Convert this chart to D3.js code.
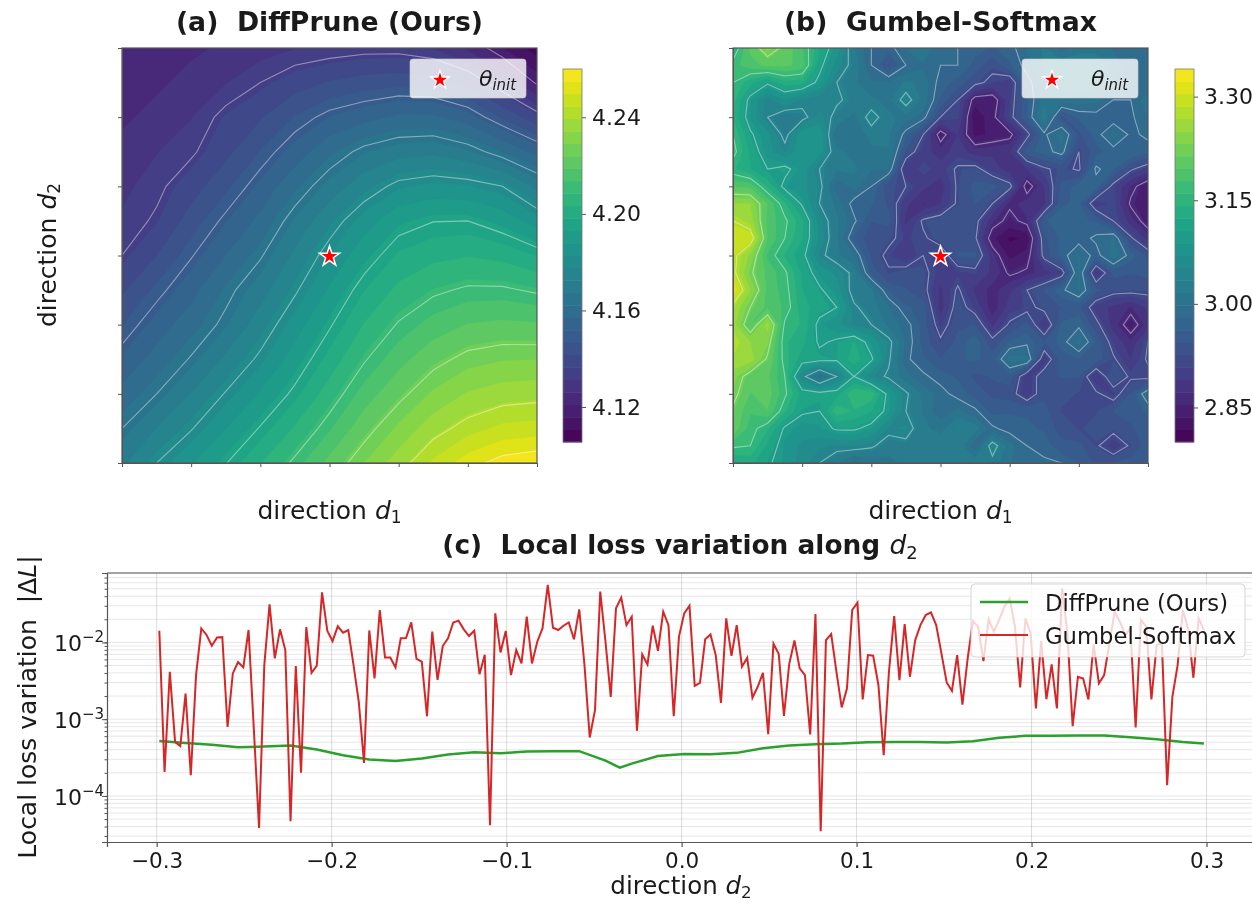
<!DOCTYPE html>
<html>
<head>
<meta charset="utf-8">
<script src="https://cdn.jsdelivr.net/npm/d3@7/dist/d3.min.js"></script>
<style>
body { margin:0; background:#fff; }
svg { display:block; filter:blur(0.7px); font-family:"DejaVu Sans",sans-serif; fill:#1a1a1a; }
svg text { white-space:pre; }
</style>
</head>
<body>
<div id="chart"></div>
<script>
// panel (a) loss surface
const surfaceA = [
[4.122,4.123,4.125,4.127,4.129,4.131,4.132,4.133,4.133,4.131,4.125,4.116,4.108],
[4.123,4.125,4.128,4.131,4.135,4.139,4.142,4.144,4.145,4.144,4.140,4.131,4.119],
[4.125,4.128,4.131,4.137,4.141,4.147,4.152,4.155,4.158,4.158,4.154,4.146,4.138],
[4.128,4.131,4.134,4.140,4.147,4.154,4.161,4.167,4.170,4.171,4.168,4.162,4.155],
[4.130,4.1335,4.139,4.1455,4.153,4.161,4.169,4.176,4.182,4.184,4.183,4.180,4.171],
[4.132,4.136,4.144,4.1515,4.1585,4.168,4.1766,4.185,4.192,4.1948,4.195,4.1914,4.185],
[4.135,4.1415,4.1495,4.157,4.1643,4.1736,4.183,4.1914,4.199,4.2018,4.203,4.2016,4.198],
[4.1407,4.148,4.155,4.163,4.170,4.179,4.1886,4.198,4.2047,4.2087,4.211,4.211,4.209],
[4.1466,4.1538,4.1603,4.1667,4.1756,4.185,4.1942,4.2036,4.2106,4.2157,4.219,4.220,4.2195],
[4.1526,4.1594,4.1656,4.1735,4.1815,4.1906,4.200,4.2093,4.2168,4.2227,4.227,4.2287,4.229],
[4.1588,4.165,4.1727,4.1805,4.1884,4.1966,4.2062,4.2158,4.223,4.230,4.2347,4.237,4.2377],
[4.165,4.1726,4.1795,4.1878,4.1955,4.204,4.213,4.2223,4.2302,4.2375,4.2424,4.2458,4.2467],
[4.1714,4.180,4.1873,4.1947,4.2031,4.2114,4.2205,4.229,4.2372,4.2455,4.2525,4.2575,4.2595]
];
// panel (b) loss surface
const surfaceB = [
[3.14,3.20,3.24,3.21,3.18,3.125,3.08,3.02,2.98,2.97,3.00,3.02,2.98,2.98,2.97,2.96,2.97,3.00,3.02,2.99,3.01,3.01,2.995,2.98,2.98],
[3.17,3.19,3.20,3.20,3.19,3.11,3.06,3.03,2.98,2.94,2.98,2.995,2.98,2.98,2.955,2.93,2.96,2.99,3.02,3.03,3.03,3.03,3.01,2.99,2.98],
[3.16,3.13,3.105,3.135,3.13,3.09,3.04,3.02,3.00,3.00,3.02,3.01,2.97,2.955,2.93,2.91,2.895,2.97,3.005,3.02,3.03,3.03,2.995,2.98,2.98],
[3.15,3.09,3.045,3.07,3.05,3.04,3.045,3.03,3.02,3.01,3.055,3.01,2.96,2.92,2.845,2.84,2.905,2.96,3.01,3.01,3.01,3.005,2.98,2.98,3.01],
[3.14,3.085,3.04,3.02,3.03,3.06,3.03,3.01,3.055,3.02,3.01,2.99,2.92,2.91,2.82,2.85,2.91,2.96,3.03,2.94,2.965,2.97,2.965,2.975,3.00],
[3.16,3.105,3.075,3.03,3.085,3.085,3.00,3.00,3.025,3.02,2.97,2.92,2.845,2.89,2.83,2.84,2.85,2.91,2.975,3.01,2.94,2.97,3.005,2.975,2.985],
[3.17,3.12,3.08,3.05,3.085,3.08,3.02,3.01,3.01,3.015,2.94,2.90,2.88,2.90,2.88,2.885,2.89,2.955,2.97,2.99,2.92,2.955,2.97,2.98,2.97],
[3.145,3.125,3.10,3.11,3.08,3.04,3.02,3.02,3.00,3.00,2.89,2.915,2.90,2.925,2.93,2.90,2.88,2.89,2.915,2.93,2.915,2.985,2.965,2.925,2.90],
[3.195,3.19,3.14,3.09,3.075,3.05,2.985,3.005,2.98,2.93,2.92,2.895,2.88,2.925,2.95,2.95,2.93,2.845,2.89,2.95,2.97,2.97,2.91,2.87,2.84],
[3.25,3.25,3.195,3.145,3.095,3.04,3.01,2.97,2.965,2.94,2.895,2.87,2.89,2.925,2.945,2.92,2.865,2.88,2.885,2.96,2.965,2.895,2.915,2.855,2.85],
[3.28,3.26,3.19,3.165,3.13,3.06,3.02,2.985,2.945,2.95,2.885,2.925,2.935,2.94,2.93,2.875,2.85,2.87,2.96,2.97,2.965,2.96,2.92,2.88,2.845],
[3.305,3.30,3.195,3.16,3.125,3.065,3.02,2.96,2.93,2.93,2.905,2.915,2.935,2.94,2.925,2.84,2.815,2.82,2.94,2.965,2.97,2.985,3.00,2.925,2.88],
[3.29,3.245,3.175,3.14,3.11,3.05,3.02,3.00,2.94,2.91,2.89,2.92,2.90,2.945,2.95,2.88,2.83,2.845,2.93,2.97,3.00,2.97,3.01,2.97,2.94],
[3.29,3.225,3.19,3.165,3.12,3.085,3.065,3.03,2.955,2.925,2.935,2.93,2.90,2.905,2.91,2.885,2.855,2.865,2.88,2.905,3.005,2.885,2.95,2.945,2.95],
[3.32,3.25,3.19,3.17,3.125,3.105,3.08,3.025,3.02,2.96,2.945,2.93,2.885,2.925,2.885,2.865,2.885,2.92,2.945,2.975,3.00,2.95,2.93,2.93,2.93],
[3.27,3.22,3.19,3.175,3.13,3.115,3.10,3.045,3.025,3.00,2.965,2.955,2.88,2.935,2.905,2.86,2.90,2.91,2.93,2.945,2.95,2.90,2.885,2.87,2.895],
[3.26,3.195,3.26,3.155,3.14,3.09,3.075,3.05,3.04,3.01,2.99,2.955,2.905,2.94,2.945,2.885,2.925,2.95,2.885,2.965,2.975,2.93,2.88,2.845,2.88],
[3.28,3.25,3.235,3.145,3.13,3.095,3.105,3.125,3.085,3.05,2.995,2.955,2.925,2.95,2.975,2.93,2.965,2.975,2.945,2.97,3.005,2.96,2.905,2.875,2.92],
[3.265,3.26,3.215,3.15,3.115,3.11,3.105,3.135,3.105,3.045,2.985,2.965,2.945,2.96,2.965,2.955,3.005,3.005,2.895,2.955,2.96,2.955,2.925,2.89,2.925],
[3.24,3.205,3.20,3.16,3.05,2.995,3.04,3.10,3.055,3.035,3.005,2.985,2.97,2.96,2.94,2.945,2.955,2.895,2.94,2.945,2.945,2.89,2.945,2.915,2.91],
[3.23,3.195,3.205,3.165,3.115,3.11,3.115,3.16,3.155,3.09,3.045,3.01,2.99,2.97,2.955,2.94,2.935,2.895,2.94,2.93,2.925,2.925,2.905,2.945,3.00],
[3.215,3.18,3.195,3.145,3.105,3.10,3.155,3.14,3.125,3.09,3.04,3.015,2.985,3.005,2.985,2.955,2.96,2.96,2.95,2.925,2.92,2.925,2.945,2.955,2.965],
[3.21,3.17,3.145,3.095,3.08,3.085,3.105,3.105,3.09,3.05,3.055,3.02,3.01,3.035,3.025,2.985,2.97,2.965,2.96,2.935,2.925,2.93,2.93,2.94,2.955],
[3.165,3.16,3.12,3.085,3.065,3.055,3.05,3.055,3.045,3.025,3.03,3.03,3.03,3.03,2.985,3.055,3.005,2.98,2.97,2.95,2.95,2.925,2.895,2.925,2.955],
[3.12,3.13,3.105,3.085,3.06,3.04,3.02,2.99,3.005,3.01,3.02,3.025,3.03,3.03,3.03,3.03,3.00,2.985,2.985,2.98,2.96,2.94,2.945,2.955,2.95]
];
const rangeA = [4.1055, 4.26];
const rangeB = [2.80, 3.34];
const linesA = [4.12,4.135,4.15,4.165,4.18,4.195,4.21,4.225,4.24,4.255];
const linesB = [2.86,2.92,2.98,3.04,3.10,3.16,3.22,3.28];
const cbarTicksA = [4.12,4.16,4.20,4.24];
const cbarTicksB = [2.85,3.00,3.15,3.30];
const nBands = 30;

// panel (c)
const gumbelLoss = [
.0142,2.06e-4,.00414,5.06e-4,4.45e-4,.00216,1.86e-4,.00375,.0152,.0125,.00905,.0116,.0117,7.94e-4,.00394,.00554,.00472,.0145,7.55e-4,3.83e-5,
.00506,.0313,.00618,.0148,.00794,4.67e-5,.00491,2.01e-4,.0158,.00402,.00497,.0449,.0142,.0104,.0162,.0134,.0145,.00506,.00168,2.69e-4,
.0143,.00339,.0264,.00637,.00637,.00472,.0113,.0114,.0182,.00612,.0056,.00109,.0138,.00326,.00896,.0113,.0182,.0192,.0148,.0121,
.0142,.00386,.0069,4.14e-5,.0239,.00741,.0141,.00375,.00794,.00532,.0216,.00532,.0102,.0152,.056,.0155,.0145,.0165,.0182,.011,
.0269,.00506,5.77e-4,.00131,.0458,.0102,.00195,.0278,.0383,.0168,.0216,7.05e-4,.00697,.00516,.0165,.00778,.0251,.0168,.00109,.0119,
.0239,.0301,.00272,.00298,.011,.0127,.00684,.00163,.0206,.0067,.0168,.00482,.00631,.0019,.00264,.00402,6.37e-4,.0096,.00711,.0011,
.00521,.0106,.00458,.00375,6.31e-4,.0234,3.46e-5,.0107,.0128,.00414,.00142,.00251,.0264,.0329,.00181,.00684,.0067,.00277,3.39e-4,.00414,
.022,.00323,.0173,.00357,.0107,.0168,.0227,.0246,.0168,.00719,.00301,.00234,.00684,.00155,.00618,.019,.016,.00571,.02,.0138,
.0196,.0292,.0375,.016,.00259,.0206,.0131,.00138,.0104,.00182,.00516,.00138,.0506,.0131,8.11e-4,.00357,.00339,.00181,.0094,.00292,
.00375,.0097,.0251,.0186,.0125,.0152,7.78e-4,.0196,.016,.00181,.00923,.0097,1.38e-4,.00195,.00506,.0264,.0152,.00346,.0206,.0145
];
const gumbelX = d3.range(gumbelLoss.length).map(i => -0.2985 + 0.003*i);
const diffPruneX = [-.2985,-.2835,-.2685,-.2535,-.2385,-.2235,-.2085,-.1935,-.1785,-.1635,-.1485,-.1335,-.1185,-.1035,-.0885,-.0735,-.0585,-.0435,-.0353,-.0285,-.0135,.0015,.0165,.0315,.0465,.0615,.0765,.0915,.1065,.1215,.1365,.1515,.1665,.1815,.1965,.2115,.2265,.2415,.2565,.2715,.2865,.2985];
const diffPruneLoss = [5.21e-4,4.91e-4,4.63e-4,4.31e-4,4.40e-4,4.54e-4,4.02e-4,3.39e-4,2.98e-4,2.86e-4,3.07e-4,3.46e-4,3.71e-4,3.60e-4,3.79e-4,3.83e-4,3.83e-4,2.89e-4,2.34e-4,2.64e-4,3.32e-4,3.53e-4,3.49e-4,3.64e-4,4.18e-4,4.54e-4,4.72e-4,4.82e-4,5.01e-4,5.06e-4,5.06e-4,4.96e-4,5.16e-4,5.71e-4,6.06e-4,6.06e-4,6.13e-4,6.12e-4,5.82e-4,5.48e-4,5.06e-4,4.82e-4];
const xTicksC = [-0.3,-0.2,-0.1,0.0,0.1,0.2,0.3];
const yTicksC = [1e-4,1e-3,1e-2];

const width = 1252, height = 903;
const svg = d3.select("#chart").append("svg").attr("width",width).attr("height",height);
const defs = svg.append("defs");
const axisColor = "#555";

function mathLabel(g,x,y,size,parts,anchor="middle",extra={}) {
    // parts: [text, italic?, sub?]
    let t = g.append("text").attr("x",x).attr("y",y).attr("font-size",size).attr("text-anchor",anchor);
    Object.entries(extra).forEach(([k,v]) => t.attr(k,v));
    parts.forEach(p => {
        let s = t.append("tspan").text(p[0]);
        if (p[1]) s.attr("font-style","italic");
        if (p[2]) s.attr("font-size",size*0.68).attr("dy",size*0.17);
    });
    return t;
}

function surfacePanel(id,grid,domain,levels,cbarTicks,{left,top,size,cbarLeft,title,legendX,starX,textX}) {
    let n = grid.length;
    let x = d3.scaleLinear().domain([0,n-1]).range([left,left+size]);
    let y = d3.scaleLinear().domain([0,n-1]).range([top,top+size]);
    let thresholds = d3.range(nBands).map(i => domain[0] + (domain[1]-domain[0])*i/nBands);
    let values = grid.flat();
    let contours = d3.contours().size([n,n]).smooth(true);
    let path = d3.geoPath(d3.geoTransform({
        point(px,py){ this.stream.point(x(px-0.5),y(py-0.5)); }
    }));

    defs.append("clipPath").attr("id","clip"+id).append("rect")
        .attr("x",left).attr("y",top).attr("width",size).attr("height",size);

    let g = svg.append("g");
    let plot = g.append("g").attr("clip-path",`url(#clip${id})`);
    plot.selectAll("path.band").data(contours.thresholds(thresholds)(values)).join("path")
        .attr("class","band")
        .attr("d",path)
        .attr("fill",(d,i) => d3.interpolateViridis((i+0.5)/nBands))
        .attr("stroke",(d,i) => d3.interpolateViridis((i+0.5)/nBands))
        .attr("stroke-width",0.4);
    plot.selectAll("path.level").data(contours.thresholds(levels)(values)).join("path")
        .attr("class","level")
        .attr("d",path)
        .attr("fill","none")
        .attr("stroke","#fff")
        .attr("stroke-opacity",0.42)
        .attr("stroke-width",1.1);

    // frame ticks, no labels on these
    let tickScale = d3.scaleLinear().domain([-3,3]).range([left,left+size]);
    let tickScaleY = d3.scaleLinear().domain([-3,3]).range([top,top+size]);
    g.append("g").attr("transform",`translate(0,${top+size})`)
        .call(d3.axisBottom(tickScale).ticks(7).tickSize(4).tickFormat(""))
        .call(a => a.selectAll("path,line").attr("stroke",axisColor));
    g.append("g").attr("transform",`translate(${left},0)`)
        .call(d3.axisLeft(tickScaleY).ticks(7).tickSize(4).tickFormat(""))
        .call(a => a.selectAll("path,line").attr("stroke",axisColor));
    g.append("rect").attr("x",left).attr("y",top).attr("width",size).attr("height",size)
        .attr("fill","none").attr("stroke",axisColor).attr("stroke-width",1.2);

    // star at the origin
    g.append("path")
        .attr("d",d3.symbol().type(d3.symbolStar).size(125))
        .attr("transform",`translate(${x((n-1)/2)},${y((n-1)/2)+1})`)
        .attr("fill","#f00").attr("stroke","#fff").attr("stroke-width",1.5);

    // legend
    g.append("rect").attr("x",legendX).attr("y",59).attr("width",116).attr("height",39).attr("rx",3)
        .attr("fill","#fff").attr("fill-opacity",0.8).attr("stroke","#ccc").attr("stroke-opacity",0.6);
    g.append("path")
        .attr("d",d3.symbol().type(d3.symbolStar).size(105))
        .attr("transform",`translate(${starX},80)`)
        .attr("fill","#f00").attr("stroke","#fff").attr("stroke-width",1.3);
    mathLabel(g,textX,86,22,[["θ",true],["init",true,true]],"start");

    // colorbar
    let cbarTop = 69, cbarBottom = 442, cbarW = 19;
    let cy = d3.scaleLinear().domain(domain).range([cbarBottom,cbarTop]);
    g.append("g").selectAll("rect").data(thresholds).join("rect")
        .attr("x",cbarLeft).attr("width",cbarW)
        .attr("y",(d,i) => cy(i+1<nBands ? thresholds[i+1] : domain[1]))
        .attr("height",(d,i) => cy(d)-cy(i+1<nBands ? thresholds[i+1] : domain[1])+0.5)
        .attr("fill",(d,i) => d3.interpolateViridis((i+0.5)/nBands));
    g.append("rect").attr("x",cbarLeft).attr("y",cbarTop).attr("width",cbarW).attr("height",cbarBottom-cbarTop)
        .attr("fill","none").attr("stroke","#777").attr("stroke-width",0.8);
    g.append("g").attr("transform",`translate(${cbarLeft+cbarW},0)`)
        .call(d3.axisRight(cy).tickValues(cbarTicks).tickSize(4).tickFormat(d3.format(".2f")))
        .call(a => a.select(".domain").remove())
        .call(a => a.selectAll("line").attr("stroke",axisColor))
        .call(a => a.selectAll("text").attr("font-size",22).attr("font-family","DejaVu Sans").attr("fill","#1a1a1a").attr("dx",3));

    g.append("text").attr("x",left+size/2).attr("y",31).attr("text-anchor","middle")
        .attr("font-size",26.7).attr("font-weight","bold").text(title);
    mathLabel(g,left+size/2,519,25,[["direction "],["d",true],["1",false,true]]);
}

surfacePanel("a",surfaceA,rangeA,linesA,cbarTicksA,{left:122,top:48,size:415,cbarLeft:563,title:"(a)  DiffPrune (Ours)",legendX:410,starX:440,textX:479});
surfacePanel("b",surfaceB,rangeB,linesB,cbarTicksB,{left:733,top:48,size:415,cbarLeft:1175,title:"(b)  Gumbel-Softmax",legendX:1022,starX:1052,textX:1091});

mathLabel(svg,56,255,25,[["direction "],["d",true],["2",false,true]],"middle",{transform:"rotate(-90,56,255)"});

// panel (c)
const lineMargin = {left:107,right:1259,top:573,bottom:842};
const xC = d3.scaleLinear().domain([-0.3284,0.33]).range([lineMargin.left,lineMargin.right]);
const yC = d3.scaleLog().domain([Math.pow(10,-4.6),Math.pow(10,-1.096)]).range([lineMargin.bottom,lineMargin.top]);
const minorY = d3.range(-5,-1).flatMap(e => d3.range(1,10).map(m => m*Math.pow(10,e))).filter(v => v>=yC.domain()[0] && v<=yC.domain()[1]);

const gC = svg.append("g");
gC.append("g").selectAll("line").data(minorY).join("line")
    .attr("x1",lineMargin.left).attr("x2",lineMargin.right)
    .attr("y1",d => yC(d)).attr("y2",d => yC(d))
    .attr("stroke","#b0b0b0").attr("stroke-opacity",0.3).attr("stroke-width",1);
gC.append("g").selectAll("line").data(xTicksC).join("line")
    .attr("x1",d => xC(d)).attr("x2",d => xC(d))
    .attr("y1",lineMargin.top).attr("y2",lineMargin.bottom)
    .attr("stroke","#b0b0b0").attr("stroke-opacity",0.45).attr("stroke-width",1);

let lineGen = (xs) => d3.line().x((d,i) => xC(xs[i])).y(d => yC(d));
gC.append("path").attr("d",lineGen(diffPruneX)(diffPruneLoss))
    .attr("fill","none").attr("stroke","#2ca02c").attr("stroke-width",2.5);
gC.append("path").attr("d",lineGen(gumbelX)(gumbelLoss))
    .attr("fill","none").attr("stroke","#d62728").attr("stroke-width",2);

gC.append("g").attr("transform",`translate(0,${lineMargin.bottom})`)
    .call(d3.axisBottom(xC).tickValues(xTicksC).tickSize(5).tickFormat(d => d3.format(".1f")(d).replace("-","−")))
    .call(a => a.selectAll("path,line").attr("stroke",axisColor).attr("stroke-width",1.2))
    .call(a => a.selectAll("text").attr("font-size",21.5).attr("font-family","DejaVu Sans").attr("fill","#1a1a1a").attr("dy","0.85em"));
gC.append("g").attr("transform",`translate(${lineMargin.left},0)`)
    .call(d3.axisLeft(yC).tickValues(minorY).tickSize(2.5).tickFormat(""))
    .call(a => a.selectAll("path,line").attr("stroke",axisColor));
gC.append("g").attr("transform",`translate(${lineMargin.left},0)`)
    .call(d3.axisLeft(yC).tickValues(yTicksC).tickSize(5).tickFormat(""))
    .call(a => a.selectAll("line").attr("stroke",axisColor))
    .call(a => a.select(".domain").attr("stroke",axisColor).attr("stroke-width",1.2));
gC.append("line").attr("x1",lineMargin.left).attr("x2",lineMargin.right)
    .attr("y1",lineMargin.top).attr("y2",lineMargin.top).attr("stroke",axisColor).attr("stroke-width",1.2);

yTicksC.forEach(v => {
    let t = gC.append("text").attr("x",54).attr("y",yC(v)+9).attr("font-size",22);
    t.append("tspan").text("10");
    t.append("tspan").attr("font-size",15).attr("dy",-9).text("−"+Math.round(-Math.log10(v)));
});

// legend over the lines
gC.append("rect").attr("x",971).attr("y",584).attr("width",274).attr("height",73).attr("rx",4)
    .attr("fill","#fff").attr("fill-opacity",0.8).attr("stroke","#ccc").attr("stroke-opacity",0.8);
gC.append("line").attr("x1",980).attr("x2",1028).attr("y1",602).attr("y2",602).attr("stroke","#2ca02c").attr("stroke-width",2.5);
gC.append("line").attr("x1",980).attr("x2",1028).attr("y1",635).attr("y2",635).attr("stroke","#d62728").attr("stroke-width",2.2);
gC.append("text").attr("x",1045).attr("y",611).attr("font-size",22.7).text("DiffPrune (Ours)");
gC.append("text").attr("x",1045).attr("y",644).attr("font-size",22.7).text("Gumbel-Softmax");

let titleC = gC.append("text").attr("x",680).attr("y",554).attr("text-anchor","middle").attr("font-size",26.4);
titleC.append("tspan").attr("font-weight","bold").text("(c)  Local loss variation along ");
titleC.append("tspan").attr("font-style","italic").text("d");
titleC.append("tspan").attr("font-size",18).attr("dy",5).text("2");

mathLabel(gC,681,894,24.5,[["direction "],["d",true],["2",false,true]]);
mathLabel(gC,36,707,25,[["Local loss variation  |Δ"],["L",true],["|"]],"middle",{transform:"rotate(-90,36,707)"});
</script>
</body>
</html>
